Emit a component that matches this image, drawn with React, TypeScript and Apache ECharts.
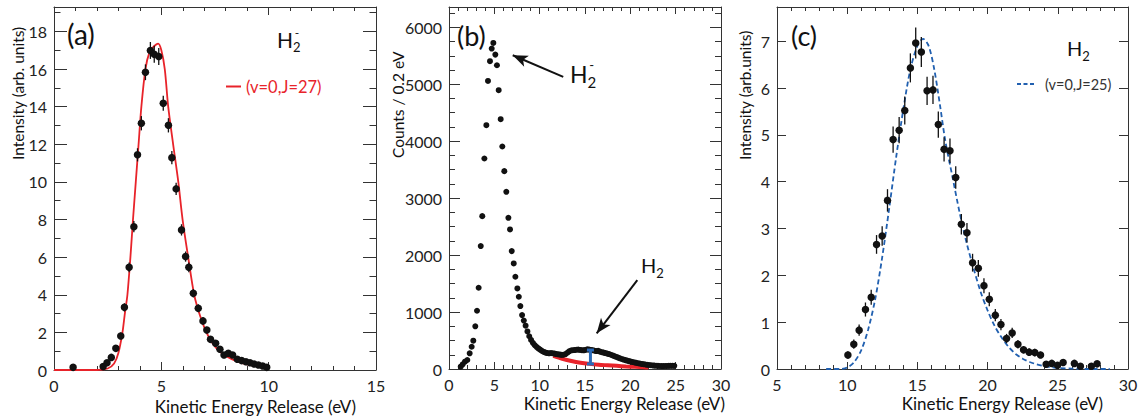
import React, { useEffect, useRef } from "react";
import * as echarts from "echarts";

// ---------- Panel (a): H2- ----------
// [KER (eV), intensity, error]
const aPoints: number[][] = [
  [0.89, 0.14, 0.1], [2.29, 0.18, 0.08], [2.47, 0.39, 0.1], [2.67, 0.67, 0.12], [2.88, 1.15, 0.15],
  [3.11, 1.81, 0.18], [3.28, 3.33, 0.22], [3.5, 5.46, 0.26], [3.72, 7.62, 0.3], [3.89, 11.44, 0.35],
  [4.07, 13.12, 0.38], [4.26, 15.83, 0.42], [4.49, 16.99, 0.45], [4.67, 16.79, 0.45], [4.88, 16.67, 0.45],
  [5.09, 14.18, 0.4], [5.33, 13.01, 0.38], [5.49, 11.29, 0.35], [5.69, 9.63, 0.32], [5.94, 7.45, 0.3],
  [6.13, 6.03, 0.27], [6.28, 5.46, 0.26], [6.49, 4.08, 0.23], [6.72, 3.28, 0.21], [6.94, 2.61, 0.19],
  [7.12, 2.13, 0.17], [7.29, 1.63, 0.15], [7.53, 1.42, 0.14], [7.73, 1.1, 0.13], [7.92, 0.8, 0.12],
  [8.12, 0.89, 0.12], [8.32, 0.8, 0.11], [8.54, 0.57, 0.1], [8.74, 0.5, 0.1], [8.94, 0.44, 0.09],
  [9.13, 0.39, 0.09], [9.32, 0.32, 0.08], [9.52, 0.27, 0.08], [9.72, 0.21, 0.07], [9.91, 0.14, 0.07],
];
const aFit: number[][] = [
  [0, 0], [2.0, 0], [2.5, 0.08], [2.8, 0.35], [3.0, 0.9], [3.19, 2.0], [3.3, 3.0], [3.42, 4.0],
  [3.56, 6.0], [3.68, 8.0], [3.81, 10.0], [3.94, 12.0], [4.07, 14.0], [4.26, 16.0], [4.45, 16.9],
  [4.65, 17.2], [4.85, 17.35], [5.0, 17.0], [5.16, 16.0], [5.32, 14.0], [5.55, 12.0], [5.79, 10.0],
  [5.99, 8.0], [6.25, 6.0], [6.53, 4.0], [6.8, 2.9], [7.1, 2.0], [7.4, 1.4], [7.7, 1.0], [8.0, 0.75],
  [8.5, 0.47], [9.0, 0.3], [9.5, 0.2], [10.0, 0.12],
];

// ---------- Panel (b): counts / 0.2 eV ----------
const bPeak: number[][] = [
  [1.29, 40], [1.51, 82], [1.76, 128], [2.02, 158], [2.28, 275], [2.5, 391], [2.68, 497], [2.9, 749],
  [3.09, 1023], [3.27, 1427], [3.5, 2158], [3.67, 2684], [3.9, 3696], [4.12, 4281], [4.3, 5058],
  [4.52, 5404], [4.71, 5626], [4.89, 5725], [5.11, 5520], [5.29, 5333], [5.48, 4895], [5.7, 4386],
  [5.88, 3907], [6.1, 3474], [6.32, 3111], [6.55, 2655], [6.73, 2450], [6.92, 2070], [7.14, 1854],
  [7.32, 1620], [7.54, 1415], [7.7, 1269], [7.87, 1105], [8.06, 947],
];
const bTail: number[][] = [
  [8.25, 850], [8.45, 760], [8.65, 660], [8.85, 575], [9.05, 510], [9.25, 460], [9.45, 420], [9.65, 390],
  [9.85, 362], [10.05, 340], [10.25, 318], [10.45, 300], [10.65, 288], [10.85, 280], [11.05, 276],
  [11.25, 280], [11.45, 276], [11.65, 270], [11.85, 262], [12.05, 258], [12.25, 252], [12.45, 248],
  [12.65, 250], [12.85, 262], [13.05, 285], [13.25, 310], [13.45, 325], [13.65, 330], [13.85, 333],
  [14.05, 338], [14.25, 340], [14.45, 335], [14.65, 330], [14.85, 328], [15.05, 335], [15.25, 345],
  [15.45, 340], [15.65, 335], [15.85, 330], [16.05, 320], [16.25, 315], [16.45, 318], [16.65, 305],
  [16.85, 295], [17.05, 288], [17.25, 280], [17.45, 270], [17.65, 262], [17.85, 250], [18.05, 238],
  [18.25, 225], [18.45, 212], [18.65, 200], [18.85, 188], [19.05, 176], [19.25, 166], [19.45, 156],
  [19.65, 147], [19.85, 138], [20.05, 130], [20.25, 122], [20.45, 115], [20.65, 108], [20.85, 101],
  [21.05, 95], [21.25, 89], [21.45, 84], [21.65, 79], [21.85, 74], [22.05, 70], [22.25, 66], [22.45, 62],
  [22.65, 59], [22.85, 57], [23.05, 55], [23.25, 53], [23.45, 52], [23.65, 52], [23.85, 53], [24.05, 54],
  [24.25, 55], [24.45, 56], [24.65, 56], [24.85, 55],
];
const bBackground: number[][] = [
  [11.5, 230], [12.5, 180], [13.5, 140], [14.5, 110], [15.5, 90], [16.5, 75], [17.5, 65], [18.5, 55],
  [19.5, 45], [20.5, 38], [21.5, 30], [22.0, 25],
];
// [x, low, high]
const bH2Bar: number[][] = [[15.6, 88, 333]];
// annotation arrows [tail, head]
const bArrowH2minus = [[12.6, 5128], [7.03, 5509]];
const bArrowH2 = [[20.77, 1561], [16.29, 626]];

// ---------- Panel (c): H2 ----------
const cPoints: number[][] = [
  [10.05, 0.3, 0.08], [10.47, 0.53, 0.1], [10.85, 0.83, 0.12], [11.3, 1.27, 0.15], [11.71, 1.53, 0.16],
  [12.09, 2.66, 0.2], [12.49, 2.84, 0.21], [12.87, 3.6, 0.24], [13.27, 4.9, 0.28], [13.7, 5.1, 0.28],
  [14.1, 5.52, 0.3], [14.5, 6.43, 0.31], [14.88, 6.96, 0.33], [15.28, 6.77, 0.32], [15.69, 5.94, 0.3],
  [16.11, 5.96, 0.3], [16.49, 5.22, 0.28], [16.9, 4.69, 0.26], [17.32, 4.66, 0.26], [17.73, 4.09, 0.24],
  [18.13, 3.09, 0.22], [18.53, 2.91, 0.21], [18.93, 2.27, 0.19], [19.34, 2.15, 0.18], [19.74, 1.78, 0.16],
  [20.12, 1.49, 0.15], [20.55, 1.15, 0.13], [20.95, 0.95, 0.12], [21.35, 0.65, 0.1], [21.75, 0.77, 0.11],
  [22.16, 0.53, 0.09], [22.56, 0.41, 0.08], [22.96, 0.36, 0.08], [23.36, 0.35, 0.08], [23.77, 0.3, 0.07],
  [24.17, 0.1, 0.05], [24.57, 0.12, 0.05], [24.98, 0.08, 0.04], [25.38, 0.14, 0.05], [26.18, 0.12, 0.05],
  [26.61, 0.06, 0.04], [27.39, 0.06, 0.04], [27.8, 0.11, 0.05],
];
const cFit: number[][] = [
  [8.5, 0], [9.5, 0], [10.0, 0.03], [10.5, 0.15], [11.0, 0.4], [11.5, 0.85], [12.0, 1.5], [12.5, 2.4],
  [13.0, 3.45], [13.5, 4.55], [14.0, 5.55], [14.5, 6.4], [15.0, 6.9], [15.4, 7.05], [15.8, 6.9],
  [16.2, 6.4], [16.6, 5.65], [17.0, 4.85], [17.5, 4.1], [18.0, 3.35], [18.5, 2.7], [19.0, 2.15],
  [19.5, 1.65], [20.0, 1.25], [20.5, 0.92], [21.0, 0.67], [21.5, 0.47], [22.0, 0.32], [22.5, 0.22],
  [23.0, 0.15], [23.5, 0.1], [24.0, 0.06], [24.5, 0.04], [25.0, 0.02], [26.0, 0.01], [27.0, 0], [28.7, 0],
];

const FONT = "Lato, 'Open Sans', 'DejaVu Sans', sans-serif";
const INK = "#111";
const FRAME = "#333";
const RED = "#e8232a";
const BLUE = "#2160b0";

function xAxes(grid: number, min: number, max: number, interval: number, major: number, minor: number) {
  const base = {
    type: "value", gridIndex: grid, min, max, interval,
    splitLine: { show: false },
    axisLine: { show: true, onZero: false, lineStyle: { color: FRAME, width: 1 } },
    axisTick: { show: true, inside: true, length: major, lineStyle: { color: FRAME } },
    minorTick: { show: true, splitNumber: 5, length: minor, lineStyle: { color: FRAME } },
  };
  return [
    { ...base, position: "bottom",
      axisLabel: { show: true, margin: 7, fontSize: 16, fontFamily: FONT, color: "#222",
        formatter: (v: number) => String(v) } },
    { ...base, position: "top", axisLabel: { show: false } },
  ];
}

function yAxes(grid: number, min: number, max: number, interval: number, major: number,
               minorInterval: number | null, minor: number) {
  const base = {
    type: "value", gridIndex: grid, min, max, interval,
    splitLine: { show: false },
    axisLine: { show: true, onZero: false, lineStyle: { color: FRAME, width: 1 } },
    axisTick: { show: true, inside: true, length: major, lineStyle: { color: FRAME } },
  };
  const out: any[] = [
    { ...base, position: "left",
      axisLabel: { show: true, margin: 7, fontSize: 16, fontFamily: FONT, color: "#222", showMaxLabel: false,
        formatter: (v: number) => String(v) } },
    { ...base, position: "right", axisLabel: { show: false } },
  ];
  if (minorInterval !== null) {
    const mb = {
      type: "value", gridIndex: grid, min, max, interval: minorInterval,
      splitLine: { show: false },
      axisLine: { show: false, onZero: false },
      axisLabel: { show: false },
      axisTick: { show: true, inside: true, length: minor, lineStyle: { color: FRAME } },
    };
    out.push({ ...mb, position: "left" }, { ...mb, position: "right" });
  }
  return out;
}

function errorBars(data: number[][], xi: number, yi: number, color: string) {
  return {
    type: "custom", xAxisIndex: xi, yAxisIndex: yi, silent: true, z: 3,
    data: data.map((p) => [p[0], p[1] - p[2], p[1] + p[2]]),
    renderItem: (_p: any, api: any) => {
      const a = api.coord([api.value(0), api.value(1)]);
      const b = api.coord([api.value(0), api.value(2)]);
      return { type: "line", shape: { x1: a[0], y1: a[1], x2: b[0], y2: b[1] },
        style: { stroke: color, lineWidth: 1.3 } };
    },
  };
}

function hLabel(x: number, y: number, size: number, minus: boolean) {
  const sub = Math.round(size * 0.64);
  const children: any[] = [
    { type: "text", x, y, style: { text: "H", fontSize: size, fontFamily: FONT, fill: INK, verticalAlign: "top" } },
    { type: "text", x: x + size * 0.76, y: y + size * 0.56,
      style: { text: "2", fontSize: sub, fontFamily: FONT, fill: INK, verticalAlign: "top" } },
  ];
  if (minus) children.push({ type: "text", x: x + size * 0.84, y: y - size * 0.14,
    style: { text: "-", fontSize: Math.round(size * 0.58), fontFamily: FONT, fill: INK, verticalAlign: "top" } });
  return { type: "group", children };
}

function text(t: string, x: number, y: number, size: number, align: string, rot = 0) {
  return { type: "text", x, y, rotation: rot,
    style: { text: t, fontSize: size, fontFamily: FONT, fill: INK, align, verticalAlign: "middle" } };
}

export default function App() {
  const ref = useRef<HTMLDivElement>(null);
  useEffect(() => {
    if (!ref.current) return;
    const chart = echarts.init(ref.current, undefined, { renderer: "svg" });
    const xa = [
      ...xAxes(0, 0, 15, 5, 8, 4),
      ...xAxes(1, 0, 30, 5, 7, 4),
      ...xAxes(2, 5, 30, 5, 7, 4),
    ];
    const ya = [
      ...yAxes(0, 0, 19.3, 2, 13, 1, 6.5), // 0..3
      ...yAxes(1, 0, 6356, 1000, 11, 250, 6), // 4..7
      ...yAxes(2, 0, 7.73, 1, 9, null, 0), // 8..9
    ];
    const option: any = {
      animation: false,
      backgroundColor: "#fff",
      grid: [
        { left: 54, top: 7, width: 322, height: 363 },
        { left: 449, top: 7, width: 272, height: 362 },
        { left: 777, top: 7, width: 351, height: 362 },
      ],
      xAxis: xa,
      yAxis: ya,
      legend: [
        { show: true, left: 226, top: 77.5, padding: 0, itemWidth: 15, itemHeight: 2, icon: "rect",
          data: ["(v=0,J=27)"], selectedMode: false,
          textStyle: { color: RED, fontSize: 16.5, fontFamily: FONT, lineHeight: 18 } },
        { show: true, left: 1017, top: 76, padding: 0, itemWidth: 17, itemHeight: 2,
          icon: "path://M0,0h4v2h-4z M6.5,0h4v2h-4z M13,0h4v2h-4z",
          data: ["(v=0,J=25)"], selectedMode: false,
          textStyle: { color: "#333", fontSize: 14.5, fontFamily: FONT, lineHeight: 16, padding: [0, 0, 0, 6] } },
      ],
      series: [
        // (a)
        { name: "(v=0,J=27)", type: "line", xAxisIndex: 0, yAxisIndex: 0, data: aFit, symbol: "none",
          smooth: 0.3, lineStyle: { color: RED, width: 1.8 }, itemStyle: { color: RED }, z: 2 },
        errorBars(aPoints, 0, 0, INK),
        { name: "H2- data", type: "scatter", xAxisIndex: 0, yAxisIndex: 0, symbolSize: 7.5,
          data: aPoints.map((p) => [p[0], p[1]]), itemStyle: { color: INK, opacity: 1 }, z: 4 },
        // (b)
        { name: "background", type: "line", xAxisIndex: 2, yAxisIndex: 4, data: bBackground, symbol: "none",
          smooth: 0.3, lineStyle: { color: RED, width: 4 }, z: 2 },
        { name: "counts", type: "scatter", xAxisIndex: 2, yAxisIndex: 4, symbolSize: 6,
          data: [...bPeak, ...bTail], itemStyle: { color: INK, opacity: 1 }, z: 3,
          markLine: {
            silent: true, symbol: ["none", "arrow"], symbolSize: [9, 15], animation: false,
            label: { show: false }, lineStyle: { color: "#111", width: 2, type: "solid" },
            data: [
              [{ coord: bArrowH2minus[0] }, { coord: bArrowH2minus[1] }],
              [{ coord: bArrowH2[0] }, { coord: bArrowH2[1] }],
            ],
          } },
        { name: "H2 bar", type: "custom", xAxisIndex: 2, yAxisIndex: 4, silent: true, z: 5,
          data: bH2Bar,
          renderItem: (_p: any, api: any) => {
            const lo = api.coord([api.value(0), api.value(1)]);
            const hi = api.coord([api.value(0), api.value(2)]);
            const st = { stroke: "#2a6ab8", lineWidth: 3 };
            return { type: "group", children: [
              { type: "line", shape: { x1: lo[0], y1: lo[1], x2: hi[0], y2: hi[1] }, style: st },
              { type: "line", shape: { x1: lo[0] - 3.5, y1: lo[1], x2: lo[0] + 3.5, y2: lo[1] }, style: st },
              { type: "line", shape: { x1: hi[0] - 3.5, y1: hi[1], x2: hi[0] + 3.5, y2: hi[1] }, style: st },
            ] };
          } },
        // (c)
        { name: "(v=0,J=25)", type: "line", xAxisIndex: 4, yAxisIndex: 8, data: cFit, symbol: "none",
          smooth: 0.3, lineStyle: { color: BLUE, width: 1.8, type: [5, 3] }, itemStyle: { color: BLUE }, z: 2 },
        errorBars(cPoints, 4, 8, INK),
        { name: "H2 data", type: "scatter", xAxisIndex: 4, yAxisIndex: 8, symbolSize: 7.5,
          data: cPoints.map((p) => [p[0], p[1]]), itemStyle: { color: INK, opacity: 1 }, z: 4 },
      ],
      graphic: [
        text("(a)", 67, 33.5, 28, "left"),
        text("(b)", 457, 35, 27, "left"),
        text("(c)", 791, 35, 27, "left"),
        hLabel(277, 29, 21, true),
        hLabel(570, 62, 23, true),
        hLabel(641, 255, 20, false),
        hLabel(1067, 38, 20, false),
        text("Kinetic Energy Release (eV)", 356, 406, 17, "right"),
        text("Kinetic Energy Release (eV)", 725, 403, 17, "right"),
        text("Kinetic Energy Release (eV)", 1103, 403, 17, "right"),
        text("Intensity (arb. units)", 17.5, 160, 15.5, "left", Math.PI / 2),
        text("Counts / 0.2 eV", 397.5, 158, 15.5, "left", Math.PI / 2),
        text("Intensity (arb.units)", 744.5, 160, 15.5, "left", Math.PI / 2),
      ],
    };
    chart.setOption(option);
    return () => chart.dispose();
  }, []);
  return (
    <div
      ref={ref}
      style={{ position: "fixed", left: 0, top: 0, width: 1142, height: 419, background: "#fff" }}
    />
  );
}
